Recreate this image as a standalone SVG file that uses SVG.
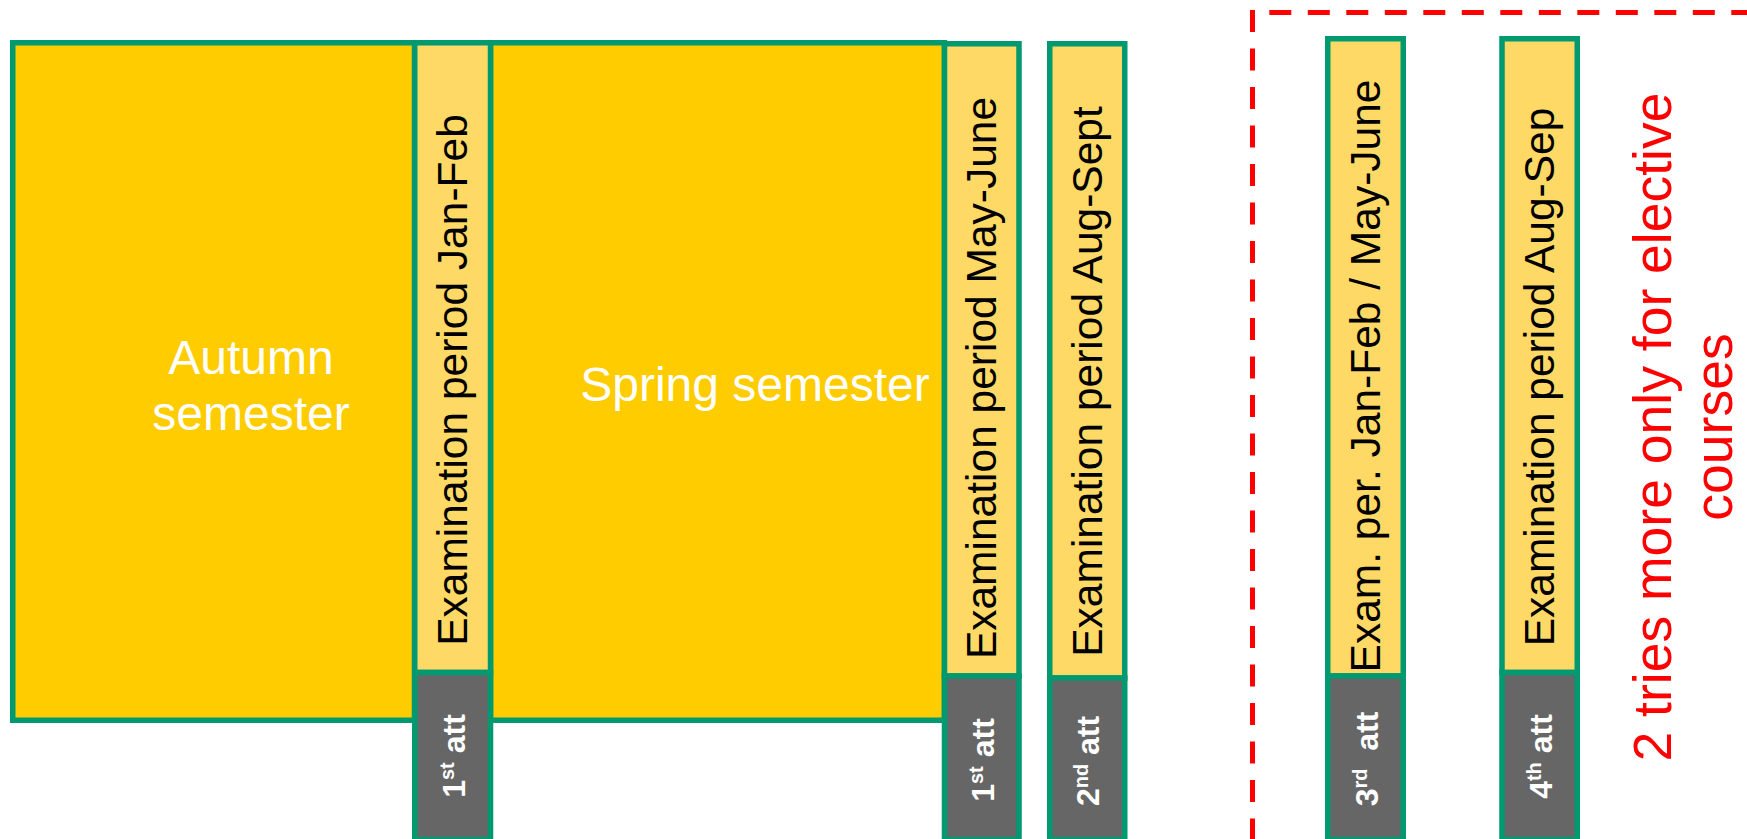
<svg xmlns="http://www.w3.org/2000/svg" width="1747" height="839" viewBox="0 0 1747 839">
<defs>
<style>
.sem{fill:#FFCC00;stroke:#009970;stroke-width:5.5}
.exam{fill:#FFD966;stroke:#009970;stroke-width:5.5}
.att{fill:#666666;stroke:#009970;stroke-width:5.5}
.semt{font-family:"Liberation Sans",Arial,sans-serif;font-size:48px;fill:#FFFFFF;text-anchor:middle}
.ext{font-family:"Liberation Sans",Arial,sans-serif;font-size:42.5px;fill:#000000;text-anchor:middle}
.att-t{font-family:"Liberation Sans",Arial,sans-serif;font-size:32px;font-weight:bold;fill:#FFFFFF;text-anchor:middle}
.red{font-family:"Liberation Sans",Arial,sans-serif;font-size:53.5px;fill:#FF0000;text-anchor:middle}
.dash{fill:none;stroke:#FF0000;stroke-width:5;stroke-dasharray:22 16.5}
</style>
</defs>
<rect width="1747" height="839" fill="#FFFFFF"/>
<g id="autumn">
<rect class="sem" x="12.75" y="42.75" width="401.75" height="677.5"/>
<text class="semt" x="251" y="373.5">Autumn</text>
<text class="semt" x="251" y="429.5">semester</text>
</g>
<g id="spring">
<rect class="sem" x="490.5" y="42.75" width="454" height="677.5"/>
<text class="semt" x="755" y="400.5">Spring semester</text>
</g>
<g id="exam1">
<rect class="exam" x="414.75" y="42.75" width="75.75" height="629.75"/>
<rect class="att" x="414.75" y="672.5" width="75.75" height="167"/>
<text class="ext" transform="translate(452.6,380) rotate(-90)" x="0" y="14.5">Examination period Jan-Feb</text>
<text class="att-t" transform="translate(452.6,756) rotate(-90)" x="0" y="12">1<tspan dy="-11" font-size="20">st</tspan><tspan dy="11"> att</tspan></text>
</g>
<g id="exam2">
<rect class="exam" x="944.5" y="43.75" width="74.5" height="632.25"/>
<rect class="att" x="944.5" y="676" width="74.5" height="163.5"/>
<text class="ext" transform="translate(981.75,378) rotate(-90)" x="0" y="14.5">Examination period May-June</text>
<text class="att-t" transform="translate(981.75,760) rotate(-90)" x="0" y="12">1<tspan dy="-11" font-size="20">st</tspan><tspan dy="11"> att</tspan></text>
</g>
<g id="exam3">
<rect class="exam" x="1049.75" y="43.75" width="75" height="634.25"/>
<rect class="att" x="1049.75" y="678" width="75" height="161.5"/>
<text class="ext" transform="translate(1087.25,381.5) rotate(-90)" x="0" y="14.5">Examination period Aug-Sept</text>
<text class="att-t" transform="translate(1087.25,761) rotate(-90)" x="0" y="12">2<tspan dy="-11" font-size="20">nd</tspan><tspan dy="11"> att</tspan></text>
</g>
<g id="exam4">
<rect class="exam" x="1327.75" y="38.75" width="75.5" height="637.25"/>
<rect class="att" x="1327.75" y="676" width="75.5" height="163.5"/>
<text class="ext" transform="translate(1365.5,376) rotate(-90)" x="0" y="14.5">Exam. per. Jan-Feb / May-June</text>
<text class="att-t" transform="translate(1365.5,759) rotate(-90)" x="0" y="12">3<tspan dy="-11" font-size="20">rd</tspan><tspan dy="11">&#160; att</tspan></text>
</g>
<g id="exam5">
<rect class="exam" x="1502" y="38.75" width="75.25" height="633.75"/>
<rect class="att" x="1502" y="672.5" width="75.25" height="167"/>
<text class="ext" transform="translate(1539.6,377) rotate(-90)" x="0" y="14.5">Examination period Aug-Sep</text>
<text class="att-t" transform="translate(1539.6,756.5) rotate(-90)" x="0" y="12">4<tspan dy="-11" font-size="20">th</tspan><tspan dy="11"> att</tspan></text>
</g>
<g id="elective-note">
<path class="dash" d="M1252.5,10 V845"/>
<path class="dash" d="M1269.3,12.5 H1760"/>
<text class="red" transform="translate(1650,427) rotate(-90)" x="0" y="21">2 tries more only for elective</text>
<text class="red" transform="translate(1650,427) rotate(-90)" x="0" y="82">courses</text>
</g>
<g id="connectors"></g>
</svg>
